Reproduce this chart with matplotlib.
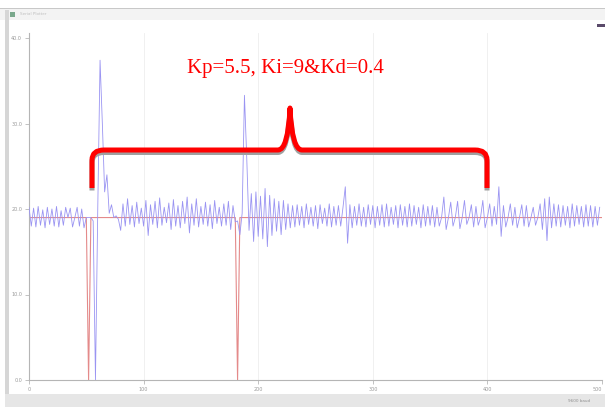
import numpy as np
import matplotlib
matplotlib.use("Agg")
import matplotlib.pyplot as plt
from matplotlib.path import Path
from matplotlib.patches import PathPatch, Rectangle

# ---- data ----
sample_step = 2
blue_values = [
    # samples 0-50
    20.2, 18.0, 20.1, 17.9, 20.3, 18.1, 19.9, 17.8, 20.2, 18.2, 20.0, 18.0, 20.3,
    17.9, 19.8, 18.1, 20.2, 19.0, 20.1, 17.9, 19.0, 20.2, 18.0, 20.0, 17.8, 19.0,
    # samples 52-78
    19.0, 19.0, 18.6, 0.0, 20.0, 37.4, 30.0, 22.0, 24.0, 19.5, 20.5, 19.0, 19.2, 18.8,
    # samples 80-180
    17.5, 20.6, 18.0, 21.2, 18.2, 20.4, 17.9, 20.8, 18.3, 20.1, 18.0, 21.0, 16.9,
    20.5, 18.2, 20.9, 17.8, 21.3, 18.1, 20.2, 18.4, 20.7, 17.6, 21.1, 18.0, 20.4,
    17.8, 20.9, 18.3, 21.4, 17.2, 20.6, 18.1, 21.2, 17.9, 20.3, 18.2, 20.8, 18.0,
    20.5, 17.7, 21.0, 18.3, 20.2, 18.0, 20.6, 18.1, 20.9, 17.6, 20.4, 18.5,
    # samples 182-230
    18.6, 17.0, 19.5, 33.3, 26.0, 17.5, 21.8, 16.2, 22.0, 16.8, 21.5, 16.5, 22.4,
    15.6, 21.6, 16.9, 21.2, 17.4, 20.9, 17.0, 21.0, 17.6, 20.6, 17.8, 20.4,
    # samples 232-498
    17.9, 20.5, 18.1, 20.3, 17.8, 20.6, 18.2, 20.2, 18.0, 20.4,
    17.7, 20.5, 18.3, 20.1, 18.0, 20.6, 17.9, 20.3, 18.1, 20.4,
    18.0, 20.2, 22.6, 16.0, 20.5, 17.8, 20.3, 18.1, 20.6, 18.0,
    20.2, 17.9, 20.5, 18.2, 20.4, 17.8, 20.3, 18.1, 20.5, 17.9,
    20.6, 18.0, 20.2, 18.2, 20.4, 17.8, 20.5, 18.1, 20.3, 17.9,
    20.6, 18.0, 20.4, 18.2, 20.2, 17.8, 20.5, 18.0, 20.3, 18.1,
    20.4, 17.9, 20.2, 18.0, 19.0, 21.4, 17.6, 19.0, 20.8, 18.0,
    19.0, 20.9, 17.7, 19.0, 21.0, 18.2, 19.0, 20.5, 17.9, 20.3,
    18.1, 19.0, 21.0, 17.8, 19.0, 20.6, 18.0, 20.3, 18.2, 22.6,
    16.8, 20.4, 17.9, 19.0, 20.6, 18.1, 20.2, 17.8, 19.0, 20.5,
    18.0, 20.4, 17.9, 19.0, 20.2, 18.1, 19.0, 20.6, 17.6, 21.2,
    16.3, 21.4, 17.8, 20.6, 18.0, 20.5, 17.9, 20.4, 18.1, 20.3,
    17.8, 20.6, 18.0, 20.4, 18.2, 20.3, 17.9, 20.5, 18.0, 20.4,
    17.9, 20.3, 18.1, 20.2,
]
red_x = [0, 50, 52, 54, 180, 182, 184, 500]
red_y = [19, 19, 0, 19, 19, 0, 19, 19]
x_ticks = [0, 100, 200, 300, 400, 500]
y_ticks = [0, 10, 20, 30, 40]
annotation_text = "Kp=5.5, Ki=9&Kd=0.4"

W, H = 605, 407
fig = plt.figure(figsize=(W / 100, H / 100), dpi=100)
fig.patch.set_facecolor("white")

def px(x, y):
    return (x / W, 1 - y / H)

# window chrome
fig.patches.append(Rectangle(px(0, 20), 1, 12 / H, transform=fig.transFigure,
                             facecolor="#f3f3f3", edgecolor="none", zorder=0))
fig.patches.append(Rectangle(px(0, 9), 1, 1.2 / H, transform=fig.transFigure,
                             facecolor="#c8c8c8", edgecolor="none", zorder=0))
fig.patches.append(Rectangle(px(5, 395), 4 / W, 385 / H, transform=fig.transFigure,
                             facecolor="#d6d6d6", edgecolor="none", zorder=0))
fig.patches.append(Rectangle(px(5, 407), 1, 13 / H, transform=fig.transFigure,
                             facecolor="#e6e6e6", edgecolor="none", zorder=0))
fig.patches.append(Rectangle(px(10, 17), 5 / W, 5 / H, transform=fig.transFigure,
                             facecolor="#7aa88c", edgecolor="none", zorder=1))
fig.patches.append(Rectangle(px(597, 27), 8 / W, 3 / H, transform=fig.transFigure,
                             facecolor="#5a4a6a", edgecolor="none", zorder=1))
fig.text(20 / W, 1 - 14 / H, "Serial Plotter", fontsize=3, color="#c0c0c0", va="center")
fig.text(590 / W, 1 - 401 / H, "9600 baud", fontsize=3, color="#909090", va="center", ha="right")

ax = fig.add_axes([29 / W, 1 - 380 / H, 573 / W, 347 / H])
ax.set_facecolor("white")
xs = np.arange(len(blue_values)) * sample_step
ax.plot(red_x, red_y, color="#e48a8a", lw=0.8, zorder=2)
ax.plot(xs, blue_values, color="#9a94f2", lw=0.6, zorder=3)
ax.set_xlim(0, 500)
ax.set_ylim(0, (380 - 33) / 8.55)
ax.set_xticks(x_ticks)
ax.set_yticks(y_ticks)
ax.set_xticklabels([f"{v}" for v in x_ticks], fontsize=3.5, color="#9a9a9a")
ax.get_xticklabels()[-1].set_horizontalalignment("right")
ax.set_yticklabels([f"{v:.1f}" for v in y_ticks], fontsize=3.5, color="#9a9a9a")
ax.tick_params(length=3, width=0.5, color="#aaaaaa", pad=2)
ax.grid(axis="x", color="#eeeeee", lw=0.6)
for s in ["top", "right"]:
    ax.spines[s].set_visible(False)
for s in ["left", "bottom"]:
    ax.spines[s].set_color("#b5b5b5")
    ax.spines[s].set_linewidth(0.8)

# annotation text
fig.text(285 / W, 1 - 68 / H, annotation_text, color="red", fontsize=15,
         family="Liberation Serif", ha="center", va="center")

# brace
def brace_path(dy=0):
    pts = [(92, 188), (92, 160), (92, 150), (104, 150), (278, 150), (288, 150),
           (290, 108), (292, 150), (302, 150), (475, 150), (487, 150),
           (487, 160), (487, 188)]
    codes = [Path.MOVETO, Path.LINETO, Path.CURVE3, Path.CURVE3, Path.LINETO,
             Path.CURVE3, Path.CURVE3, Path.CURVE3, Path.CURVE3, Path.LINETO,
             Path.CURVE3, Path.CURVE3, Path.LINETO]
    verts = [px(x, y + dy) for x, y in pts]
    return Path(verts, codes)

fig.patches.append(PathPatch(brace_path(2.5), transform=fig.transFigure, facecolor="none",
                             edgecolor="#a0a0a0", lw=3.6, capstyle="butt", joinstyle="round", zorder=5))
fig.patches.append(PathPatch(brace_path(0), transform=fig.transFigure, facecolor="none",
                             edgecolor="#ff0000", lw=3.6, capstyle="butt", joinstyle="round", zorder=6))

fig.savefig("out.png", dpi=100)
